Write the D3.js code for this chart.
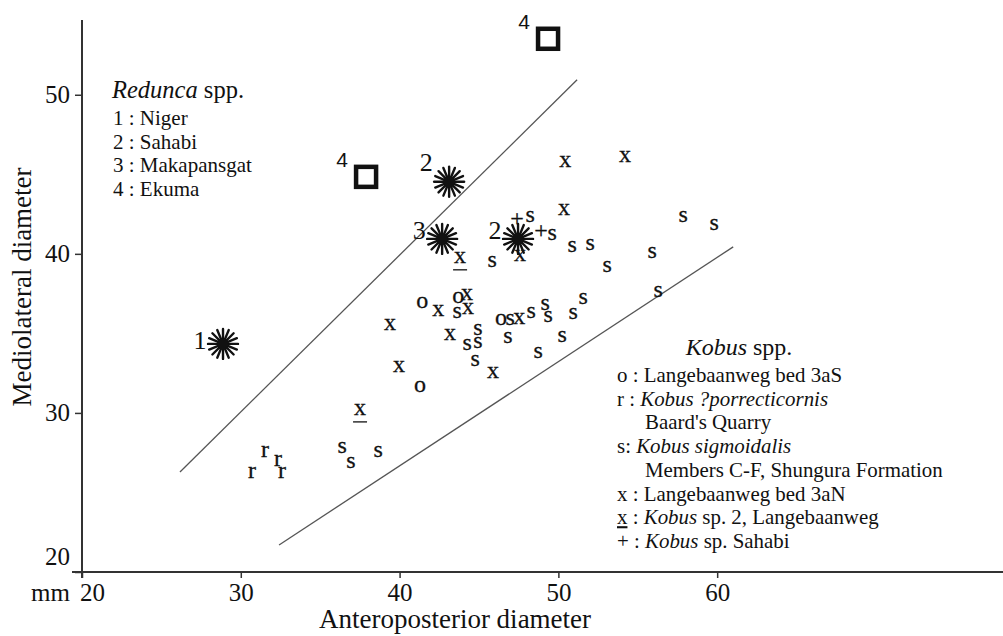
<!DOCTYPE html>
<html>
<head>
<meta charset="utf-8">
<script src="https://cdn.jsdelivr.net/npm/d3@7/dist/d3.min.js"></script>
<style>
  html, body { margin: 0; padding: 0; background: #fff; }
  svg { display: block; font-family: "Liberation Serif", "Times New Roman", serif; }
</style>
</head>
<body>
<svg id="chart" width="1003" height="636"></svg>
<script>
// axis ticks
const xTicks = [20, 30, 40, 50, 60];
const yTicks = [20, 30, 40, 50];

// Kobus spp. — [anteroposterior, mediolateral] in mm
const oPoints = [[41.42, 36.92], [43.69, 37.23], [46.39, 35.85], [41.29, 31.64]];
const rPoints = [[31.53, 27.55], [32.35, 27.04], [30.71, 26.23], [32.60, 26.23]];
const sPoints = [
  [48.22, 42.33], [49.61, 41.19], [50.87, 40.44], [52.00, 40.57], [53.07, 39.18],
  [45.83, 39.50], [55.91, 40.06], [57.86, 42.33], [59.81, 41.82], [56.28, 37.61],
  [51.56, 37.17], [50.93, 36.23], [49.17, 36.79], [49.35, 36.04], [48.28, 36.29],
  [46.96, 35.85], [46.83, 34.72], [50.24, 34.78], [48.72, 33.77], [43.62, 36.29],
  [44.94, 35.22], [44.94, 34.40], [44.25, 34.28], [44.76, 33.27], [36.38, 27.80],
  [36.94, 26.86], [38.65, 27.55]
];
const xPoints = [
  [50.43, 45.79], [54.20, 46.10], [50.36, 42.77], [47.59, 39.87], [39.40, 35.53],
  [42.43, 36.42], [44.25, 37.42], [44.31, 36.54], [43.18, 34.91], [39.97, 32.89],
  [45.89, 32.52], [47.53, 35.91]
];
const xuPoints = [[43.81, 39.75], [37.51, 30.19]];
const plusPoints = [[47.40, 42.14], [48.91, 41.38]];

// Redunca spp.
const starLabels = ["1", "2", "3", "2"];
const starPoints = [[28.88, 34.34], [43.12, 44.53], [42.68, 40.94], [47.46, 40.94]];
const squareLabels = ["4", "4"];
const squarePoints = [[37.89, 44.84], [49.35, 53.52]];

// the two bounding lines
const upperLine = [[26.17, 26.29], [51.18, 50.94]];
const lowerLine = [[32.41, 21.70], [61.01, 40.44]];

// legends: [text, italic?]
const redundaTitle = [["Redunca", true], [" spp.", false]];
const redundaItems = ["1 : Niger", "2 : Sahabi", "3 : Makapansgat", "4 : Ekuma"];
const kobusTitle = [["Kobus", true], [" spp.", false]];
const kobusItems = [
  { indent: false, parts: [["o : Langebaanweg bed 3aS", false]] },
  { indent: false, parts: [["r : ", false], ["Kobus ?porrecticornis", true]] },
  { indent: true,  parts: [["Baard's Quarry", false]] },
  { indent: false, parts: [["s: ", false], ["Kobus sigmoidalis", true]] },
  { indent: true,  parts: [["Members C-F, Shungura Formation", false]] },
  { indent: false, parts: [["x : Langebaanweg bed 3aN", false]] },
  { indent: false, parts: [["x", false, true], [" : ", false], ["Kobus", true], [" sp. 2, Langebaanweg", false]] },
  { indent: false, parts: [["+ : ", false], ["Kobus", true], [" sp. Sahabi", false]] }
];

const svg = d3.select("#chart");
const INK = "#111";

const x = d3.scaleLinear().domain([20, 78]).range([82, 1003]);
const y = d3.scaleLinear().domain([20, 54.7]).range([572, 20]);

// axes
const gx = svg.append("g")
  .attr("transform", `translate(0,${y(20)})`)
  .call(d3.axisBottom(x).tickValues(xTicks).tickSize(6).tickSizeOuter(0).tickPadding(5));
gx.select(".domain").attr("d", `M${x(20) - 10},0H${x.range()[1]}`).attr("stroke", "#333").attr("stroke-width", 2);
gx.selectAll(".tick line").attr("stroke", "#333").attr("stroke-width", 1.5);
gx.selectAll(".tick text")
  .attr("fill", INK).attr("font-size", 25).attr("font-family", "Liberation Serif, serif")
  .attr("dx", d => d === 20 ? 10 : 0);

const gy = svg.append("g")
  .attr("transform", `translate(${x(20)},0)`)
  .call(d3.axisLeft(y).tickValues(yTicks).tickSize(7).tickSizeOuter(0).tickPadding(5));
gy.select(".domain").attr("d", `M0,${y.range()[1]}V${y(20) + 6}`).attr("stroke", "#333").attr("stroke-width", 2);
gy.selectAll(".tick line").attr("stroke", "#333").attr("stroke-width", 1.5);
gy.selectAll(".tick text")
  .attr("fill", INK).attr("font-size", 25).attr("font-family", "Liberation Serif, serif")
  .attr("dy", d => d === 20 ? "-0.3em" : "0.32em");

svg.append("text")
  .attr("x", x(20) - 12).attr("y", y(20) + 29)
  .attr("text-anchor", "end").attr("font-size", 25).attr("fill", INK)
  .text("mm");

svg.append("text")
  .attr("x", 455).attr("y", 628)
  .attr("text-anchor", "middle").attr("font-size", 27).attr("fill", INK)
  .text("Anteroposterior diameter");

svg.append("text")
  .attr("transform", "translate(31,287) rotate(-90)")
  .attr("text-anchor", "middle").attr("font-size", 27).attr("fill", INK)
  .text("Mediolateral diameter");

// bounding lines
const line = d3.line().x(d => x(d[0])).y(d => y(d[1]));
svg.selectAll(".bound")
  .data([upperLine, lowerLine])
  .join("path")
  .attr("class", "bound")
  .attr("d", line)
  .attr("fill", "none").attr("stroke", "#555").attr("stroke-width", 1.3);

// letter markers
function letters(data, ch, dy) {
  svg.append("g").selectAll("text")
    .data(data)
    .join("text")
    .attr("x", d => x(d[0]))
    .attr("y", d => y(d[1]) + dy)
    .attr("text-anchor", "middle")
    .attr("font-size", 24)
    .attr("fill", INK)
    .attr("stroke", INK).attr("stroke-width", 0.3)
    .text(ch);
}
letters(oPoints, "o", 5.5);
letters(rPoints, "r", 5.5);
letters(sPoints, "s", 5.5);
letters(xPoints, "x", 5.5);
letters(xuPoints, "x", 5.5);
letters(plusPoints, "+", 6.5);

svg.append("g").selectAll("line")
  .data(xuPoints)
  .join("line")
  .attr("x1", d => x(d[0]) - 7).attr("x2", d => x(d[0]) + 7)
  .attr("y1", d => y(d[1]) + 12).attr("y2", d => y(d[1]) + 12)
  .attr("stroke", INK).attr("stroke-width", 1.3);

// asterisks
const spokes = d3.range(16).map(i => i * Math.PI / 8);
const stars = svg.append("g").selectAll("g")
  .data(starPoints)
  .join("g")
  .attr("transform", d => `translate(${x(d[0])},${y(d[1])})`);
stars.selectAll("line")
  .data(spokes)
  .join("line")
  .attr("x1", 0).attr("y1", 0)
  .attr("x2", a => 15 * Math.cos(a)).attr("y2", a => 15 * Math.sin(a))
  .attr("stroke", INK).attr("stroke-width", 2.4).attr("stroke-linecap", "round");
stars.append("circle").attr("r", 6).attr("fill", INK);

svg.append("g").selectAll("text")
  .data(starPoints)
  .join("text")
  .attr("x", (d, i) => x(d[0]) - 23)
  .attr("y", (d, i) => y(d[1]) + (i === 1 ? -11 : i === 0 ? 5 : 0))
  .attr("text-anchor", "middle")
  .attr("font-size", 26).attr("fill", INK)
  .text((d, i) => starLabels[i]);

// squares
svg.append("g").selectAll("rect")
  .data(squarePoints)
  .join("rect")
  .attr("x", d => x(d[0]) - 10).attr("y", d => y(d[1]) - 10)
  .attr("width", 20).attr("height", 20)
  .attr("fill", "none").attr("stroke", INK).attr("stroke-width", 4.5);

svg.append("g").selectAll("text")
  .data(squarePoints)
  .join("text")
  .attr("x", d => x(d[0]) - 24)
  .attr("y", d => y(d[1]) - 10)
  .attr("text-anchor", "middle")
  .attr("font-family", "Liberation Sans, Arial, sans-serif")
  .attr("font-size", 21).attr("fill", INK)
  .text((d, i) => squareLabels[i]);

// Redunca legend
const rt = svg.append("text").attr("x", 112).attr("y", 98).attr("font-size", 24.5).attr("fill", INK);
redundaTitle.forEach(([t, it]) => rt.append("tspan").attr("font-style", it ? "italic" : "normal").text(t));
svg.append("g").selectAll("text")
  .data(redundaItems)
  .join("text")
  .attr("x", 113)
  .attr("y", (d, i) => 125 + i * 23.6)
  .attr("font-size", 21).attr("fill", INK)
  .text(d => d);

// Kobus legend
const kt = svg.append("text").attr("x", 739).attr("y", 355).attr("text-anchor", "middle").attr("font-size", 24).attr("fill", INK);
kobusTitle.forEach(([t, it]) => kt.append("tspan").attr("font-style", it ? "italic" : "normal").text(t));
kobusItems.forEach((item, i) => {
  const t = svg.append("text")
    .attr("x", item.indent ? 645 : 617)
    .attr("y", 382 + i * 23.7)
    .attr("font-size", 20.9).attr("fill", INK);
  item.parts.forEach(([s, it, ul]) => {
    t.append("tspan")
      .attr("font-style", it ? "italic" : "normal")
      .style("text-decoration", ul ? "underline" : "none")
      .text(s);
  });
});
</script>
</body>
</html>
